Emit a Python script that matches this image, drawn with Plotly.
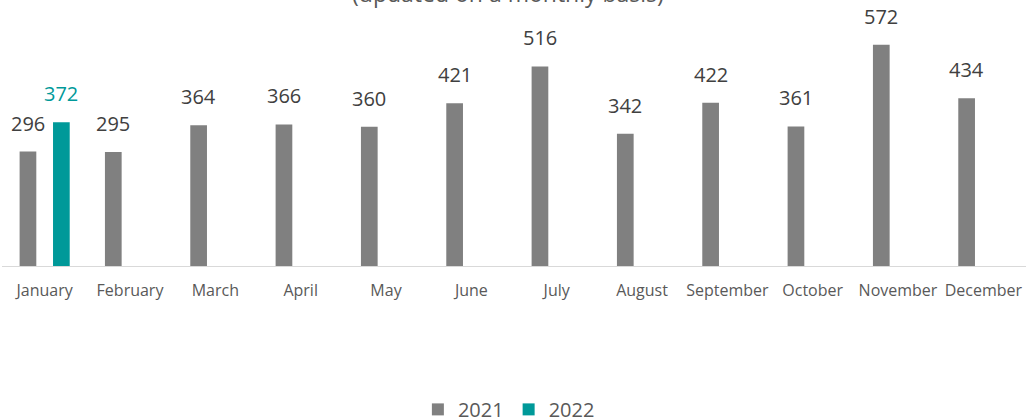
import plotly.graph_objects as go

months = ["January", "February", "March", "April", "May", "June", "July",
          "August", "September", "October", "November", "December"]
values_2021 = [296, 295, 364, 366, 360, 421, 516, 342, 422, 361, 572, 434]
values_2022 = [372, None, None, None, None, None, None, None, None, None, None, None]
title_text = "(updated on a monthly basis)"

c2021 = "#808080"
c2022 = "#009999"
font_fam = "Open Sans"

fig = go.Figure()
fig.add_trace(go.Bar(x=months, y=values_2021, name="2021", marker_color=c2021,
                     marker_line_width=0))
fig.add_trace(go.Bar(x=months, y=values_2022, name="2022", marker_color=c2022,
                     marker_line_width=0))

shift = 16.7
annotations = []
for m, v in zip(months, values_2021):
    if v is not None:
        annotations.append(dict(x=m, y=v, text=str(v), showarrow=False,
                                xanchor="center", yanchor="bottom", xshift=-shift, yshift=13,
                                font=dict(family=font_fam, size=20, color="#404040")))
for m, v in zip(months, values_2022):
    if v is not None:
        annotations.append(dict(x=m, y=v, text=str(v), showarrow=False,
                                xanchor="center", yanchor="bottom", xshift=shift, yshift=13,
                                font=dict(family=font_fam, size=20, color=c2022)))
annotations.append(dict(xref="paper", yref="paper", x=0.494, y=1.175, text=title_text,
                        showarrow=False, xanchor="center", yanchor="middle",
                        font=dict(family=font_fam, size=23, color="#595959")))

fig.update_layout(
    width=1030, height=417,
    margin=dict(l=2, r=4, t=34, b=151, autoexpand=False),
    paper_bgcolor="white", plot_bgcolor="white",
    barmode="group", bargap=0.217, bargroupgap=0.5,
    showlegend=True,
    legend=dict(orientation="h", x=0.495, xanchor="center", y=-0.534, yanchor="top",
                font=dict(family=font_fam, size=20, color="#595959"),
                itemwidth=30, traceorder="normal"),
    annotations=annotations,
    font=dict(family=font_fam),
)
fig.update_xaxes(showline=True, linecolor="#d9d9d9", linewidth=1, ticks="",
                 showgrid=False, tickfont=dict(family=font_fam, size=16, color="#595959"),
                 ticklabelstandoff=10, automargin=False)
fig.update_yaxes(range=[0, 600], visible=False, showgrid=False, zeroline=False,
                 automargin=False)

fig.write_html("out.html", config={"displayModeBar": False},
               post_script="document.body.style.margin='0';")
